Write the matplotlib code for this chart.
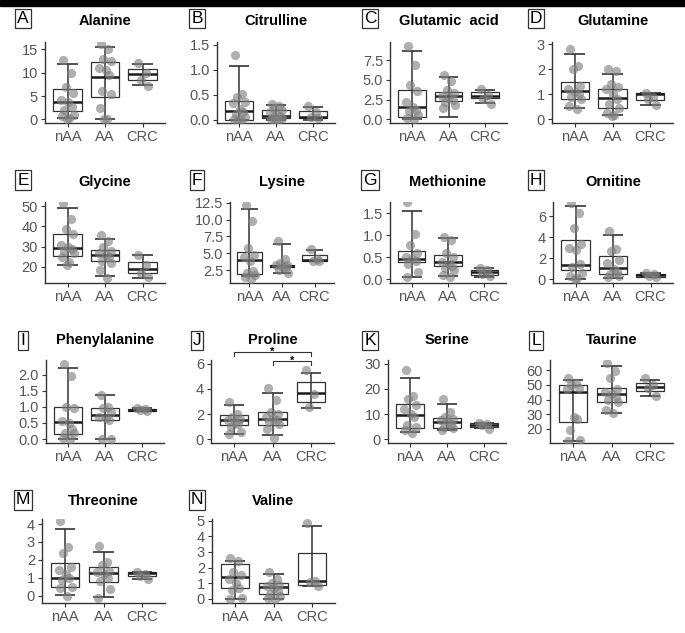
import matplotlib
matplotlib.use("Agg")
import matplotlib.pyplot as plt
from matplotlib.patches import Rectangle

plt.rcParams['font.family'] = ['Liberation Sans', 'DejaVu Sans']

groups = ["nAA", "AA", "CRC"]

# ---- data: box stats (whislo, q1, med, q3, whishi) and points per group ----
titles = ["Alanine", "Citrulline", "Glutamic  acid", "Glutamine",
          "Glycine", "Lysine", "Methionine", "Ornitine",
          "Phenylalanine", "Proline", "Serine", "Taurine",
          "Threonine", "Valine"]
letters = list("ABCDEFGHIJKLMN")

stats_alanine = [[0.2, 1.8, 3.8, 6.5, 11.8], [0.0, 4.8, 9.0, 12.3, 15.6], [7.4, 8.4, 9.7, 10.8, 11.8]]
pts_alanine = [[12.7, 9.9, 6.9, 5.6, 4.1, 3.8, 2.7, 2.0, 1.0, 0.8, 0.2, 0.0],
               [16.2, 15.0, 13.0, 12.5, 11.0, 10.5, 9.5, 6.1, 5.5, 2.4, 0.0, 0.0],
               [12.0, 10.0, 8.5, 7.2]]
stats_citrulline = [[0.0, 0.0, 0.17, 0.38, 1.07], [0.0, 0.03, 0.08, 0.2, 0.3], [0.0, 0.03, 0.05, 0.17, 0.25]]
pts_citrulline = [[1.3, 0.52, 0.45, 0.35, 0.33, 0.22, 0.15, 0.12, 0.05, 0.02, 0.0, 0.0],
                  [0.31, 0.28, 0.24, 0.2, 0.15, 0.1, 0.08, 0.06, 0.04, 0.02, 0.0, 0.0],
                  [0.27, 0.15, 0.05, 0.03]]
stats_glutamic = [[0.0, 0.25, 1.6, 3.7, 8.6], [0.35, 2.3, 2.9, 3.5, 5.3], [2.1, 2.7, 3.0, 3.4, 3.7]]
pts_glutamic = [[9.3, 6.9, 4.3, 3.6, 2.2, 1.5, 1.2, 1.0, 0.5, 0.2, 0.1],
                [5.6, 4.9, 3.7, 3.3, 3.0, 2.8, 2.5, 2.2, 1.8, 1.4],
                [3.9, 3.1, 2.6, 1.9]]
stats_glutamine = [[0.47, 0.83, 1.15, 1.48, 2.62], [0.18, 0.47, 0.85, 1.23, 1.82], [0.58, 0.78, 1.0, 1.05, 1.05]]
pts_glutamine = [[2.8, 2.15, 2.0, 1.35, 1.2, 1.1, 1.0, 0.9, 0.8, 0.55, 0.4],
                 [2.02, 1.95, 1.4, 1.3, 1.2, 1.0, 0.8, 0.6, 0.45, 0.25, 0.18, 0.15],
                 [1.05, 0.9, 0.8, 0.58]]
stats_glycine = [[21, 25.2, 29.5, 36, 49], [15.5, 22.7, 26, 28.3, 33.7], [14.8, 16.8, 18.8, 22.5, 25.8]]
pts_glycine = [[51.5, 43.5, 38.5, 36, 31, 30, 29, 28, 27, 25, 22.5, 21],
               [35.5, 33, 30, 28, 27, 26, 25, 23, 22, 18.5, 14.5],
               [26, 21, 17, 15]]
stats_lysine = [[1.6, 1.9, 4.0, 5.2, 11.5], [2.0, 2.9, 3.1, 3.3, 6.3], [3.9, 3.9, 4.0, 4.8, 5.5]]
pts_lysine = [[12.2, 9.8, 5.7, 4.8, 4.5, 3.8, 2.3, 2.0, 1.8, 1.5, 1.2],
              [6.8, 4.1, 3.5, 3.3, 3.2, 3.0, 2.9, 2.5, 2.0],
              [5.6, 4.2, 3.9, 3.8]]
stats_methionine = [[0.05, 0.40, 0.46, 0.65, 1.55], [0.07, 0.29, 0.38, 0.56, 0.94], [0.05, 0.1, 0.16, 0.21, 0.25]]
pts_methionine = [[1.75, 1.03, 0.78, 0.6, 0.5, 0.45, 0.42, 0.35, 0.15, 0.05],
                  [0.97, 0.9, 0.6, 0.5, 0.4, 0.35, 0.3, 0.25, 0.2, 0.1, 0.05],
                  [0.25, 0.2, 0.12, 0.08]]
stats_ornitine = [[0.0, 0.85, 1.35, 3.75, 6.95], [0.15, 0.45, 1.05, 2.25, 4.15], [0.2, 0.25, 0.4, 0.5, 0.55]]
pts_ornitine = [[7.2, 6.3, 4.9, 3.3, 3.0, 2.8, 1.4, 1.2, 0.6, 0.3, 0.1, 0.0],
                [4.6, 2.9, 2.7, 1.8, 1.5, 1.0, 0.7, 0.5, 0.3, 0.2],
                [0.55, 0.45, 0.3, 0.2]]
stats_phenyl = [[0.0, 0.17, 0.52, 1.0, 2.2], [0.0, 0.6, 0.74, 0.95, 1.36], [0.86, 0.88, 0.91, 0.93, 0.95]]
pts_phenyl = [[2.32, 1.95, 1.0, 0.95, 0.55, 0.5, 0.3, 0.2, 0.18, 0.05, 0.0],
              [1.38, 1.0, 0.95, 0.85, 0.7, 0.65, 0.6, 0.0, 0.0],
              [0.95, 0.92, 0.9, 0.88]]
stats_proline = [[0.45, 1.1, 1.55, 1.95, 2.75], [0.35, 1.15, 1.6, 2.2, 3.7], [2.5, 3.0, 3.65, 4.55, 5.3]]
pts_proline = [[3.0, 2.0, 1.8, 1.6, 1.5, 1.4, 1.2, 1.0, 0.6, 0.4],
               [4.05, 3.1, 2.2, 2.0, 1.8, 1.6, 1.5, 1.4, 1.2, 0.8, 0.1],
               [5.5, 3.6, 2.6]]
stats_serine = [[2.8, 4.5, 9.5, 14, 24.5], [3.8, 4.3, 7.0, 8.3, 14], [4.3, 5.0, 5.7, 6.3, 6.5]]
pts_serine = [[27.5, 17, 16, 13.5, 12, 10, 9, 5.5, 5, 3.5, 2.5],
              [15.8, 11, 9, 8, 7.5, 7, 6, 5, 4.5, 3.5],
              [6.5, 6.2, 5.5, 4.2]]
stats_taurine = [[12, 25, 45, 50, 53.5], [31, 38, 44, 47.5, 62.5], [42.5, 45.5, 48.5, 51, 53.5]]
pts_taurine = [[54.5, 51, 50, 48, 47, 28, 27, 19.5, 12.5, 12],
               [65, 59, 54.5, 47, 45, 44, 42, 40, 38, 33, 31],
               [54.5, 50, 48, 42.5]]
stats_threonine = [[0.05, 0.47, 1.02, 1.85, 3.7], [-0.08, 0.75, 1.27, 1.6, 2.45], [0.95, 1.08, 1.25, 1.3, 1.3]]
pts_threonine = [[4.15, 2.7, 2.4, 1.6, 1.45, 1.2, 1.0, 0.9, 0.5, 0.45, 0.0],
                 [2.75, 1.9, 1.7, 1.4, 1.3, 1.2, 1.0, 0.8, 0.4, -0.1],
                 [1.35, 1.2, 1.1, 0.95]]
stats_valine = [[0.0, 0.7, 1.38, 2.2, 2.45], [0.0, 0.3, 0.78, 1.02, 1.6], [0.85, 0.92, 1.12, 2.95, 4.65]]
pts_valine = [[2.6, 2.4, 1.7, 1.5, 1.3, 1.0, 0.7, 0.6, 0.05, 0.0],
              [1.75, 1.3, 1.0, 0.9, 0.8, 0.7, 0.5, 0.3, 0.2, 0.05, 0.0],
              [4.85, 1.15, 1.1, 0.85]]

all_stats = [stats_alanine, stats_citrulline, stats_glutamic, stats_glutamine,
             stats_glycine, stats_lysine, stats_methionine, stats_ornitine,
             stats_phenyl, stats_proline, stats_serine, stats_taurine,
             stats_threonine, stats_valine]
all_pts = [pts_alanine, pts_citrulline, pts_glutamic, pts_glutamine,
           pts_glycine, pts_lysine, pts_methionine, pts_ornitine,
           pts_phenyl, pts_proline, pts_serine, pts_taurine,
           pts_threonine, pts_valine]

yticks = [[0, 5, 10, 15], [0, 0.5, 1.0, 1.5], [0, 2.5, 5.0, 7.5], [0, 1, 2, 3],
          [20, 30, 40, 50], [2.5, 5.0, 7.5, 10.0, 12.5], [0, 0.5, 1.0, 1.5], [0, 2, 4, 6],
          [0, 0.5, 1.0, 1.5, 2.0], [0, 2, 4, 6], [0, 10, 20, 30], [20, 30, 40, 50, 60],
          [0, 1, 2, 3, 4], [0, 1, 2, 3, 4, 5]]
ytick_labels = [["0", "5", "10", "15"], ["0.0", "0.5", "1.0", "1.5"], ["0.0", "2.5", "5.0", "7.5"], ["0", "1", "2", "3"],
                ["20", "30", "40", "50"], ["2.5", "5.0", "7.5", "10.0", "12.5"], ["0.0", "0.5", "1.0", "1.5"], ["0", "2", "4", "6"],
                ["0.0", "0.5", "1.0", "1.5", "2.0"], ["0", "2", "4", "6"], ["0", "10", "20", "30"], ["20", "30", "40", "50", "60"],
                ["0", "1", "2", "3", "4"], ["0", "1", "2", "3", "4", "5"]]

# significance annotations for Proline: (group a, group b, y, label)
sig_proline = [(1, 3, 6.9, "*"), (2, 3, 6.2, "*")]

# ---- layout (pixels) ----
W, H = 685, 633
ylims = [(-0.8, 16.6), (-0.07, 1.55), (-0.47, 9.8), (-0.15, 3.1),
         (12.1, 52.0), (0.58, 12.6), (-0.09, 1.76), (-0.36, 7.33),
         (-0.12, 2.45), (-0.3, 6.3), (-1.5, 31.5), (10.5, 66.8),
         (-0.4, 4.28), (-0.26, 5.1)]
cols_lr = [(45, 165), (217, 335), (390, 507), (552, 673),
           (45, 165), (230, 334), (390, 506), (553, 673),
           (46, 164), (211, 334), (388, 506), (550, 673),
           (42, 165), (212, 335)]
rows_tb = [(42, 123), (202, 283), (360, 443), (519, 603)]
title_y = [21, 182, 340, 501]
label_y = [18.5, 180, 340.5, 500]
label_x = [23, 197, 370, 536]

JIT = [-0.12, 0.08, -0.05, 0.15, -0.17, 0.02, 0.11, -0.09, 0.17, -0.14, 0.05, -0.02]

fig = plt.figure(figsize=(W / 100, H / 100), dpi=100)
fig.patches.append(Rectangle((0, 1 - 6 / H), 1, 6 / H, transform=fig.transFigure,
                             color="black", zorder=0))

line_c = "#333333"
for i in range(14):
    r, c = divmod(i, 4)
    l, rr = cols_lr[i]
    t, b = rows_tb[r]
    ax = fig.add_axes([l / W, 1 - b / H, (rr - l) / W, (b - t) / H])
    stats = all_stats[i]
    bxs = []
    for g, s in enumerate(stats):
        lo, q1, med, q3, hi = s
        x = g + 1
        # errorbar (whisker line with caps)
        ax.vlines(x, lo, hi, color=line_c, lw=1.1, zorder=2)
        ax.hlines([lo, hi], x - 0.27, x + 0.27, color=line_c, lw=1.2, zorder=2)
        bxs.append(dict(med=med, q1=q1, q3=q3, whislo=q1, whishi=q3, fliers=[]))
    ax.bxp(bxs, positions=[1, 2, 3], widths=0.75, showcaps=False, showfliers=False,
           patch_artist=True,
           boxprops=dict(facecolor="none", edgecolor=line_c, linewidth=0.9),
           medianprops=dict(color="#1a1a1a", linewidth=1.8),
           whiskerprops=dict(linewidth=0), manage_ticks=False, zorder=2)
    for g, pts in enumerate(all_pts[i]):
        xs = [g + 1 + JIT[k % len(JIT)] for k in range(len(pts))]
        ax.scatter(xs, pts, s=44, color="#7f7f7f", alpha=0.62, linewidths=0, zorder=3)

    ax.set_xlim(0.4, 3.6)
    ax.set_ylim(*ylims[i])
    ax.set_xticks([1, 2, 3])
    ax.set_xticklabels(groups)
    ax.set_yticks(yticks[i])
    ax.set_yticklabels(ytick_labels[i])
    for sp in ["top", "right"]:
        ax.spines[sp].set_visible(False)
    for sp in ["left", "bottom"]:
        ax.spines[sp].set_color(line_c)
        ax.spines[sp].set_linewidth(1.0)
    ax.tick_params(axis="both", colors=line_c, length=3, width=0.8, labelsize=10.5,
                   labelcolor="#555555", pad=2)
    ax.patch.set_alpha(0)

    cx = (l + rr) / 2
    fig.text(cx / W, 1 - title_y[r] / H, titles[i], ha="center", va="center",
             fontsize=10.5, fontweight="bold", color="black")
    fig.text(label_x[c] / W, 1 - label_y[r] / H, letters[i], ha="center", va="center",
             fontsize=12.5, color="black",
             bbox=dict(boxstyle="square,pad=0.12", fc="white", ec="#333333", lw=0.9))

    if titles[i] == "Proline":
        for a, bb, y, lab in sig_proline:
            drop = 0.3
            ax.plot([a, a, bb, bb], [y - drop, y, y, y - drop], color=line_c, lw=0.8,
                    clip_on=False)
            ax.text((a + bb) / 2, y + 0.05, lab, ha="center", va="center", fontsize=8,
                    fontweight="bold", color="black", clip_on=False)

fig.savefig("out.png", dpi=100)
